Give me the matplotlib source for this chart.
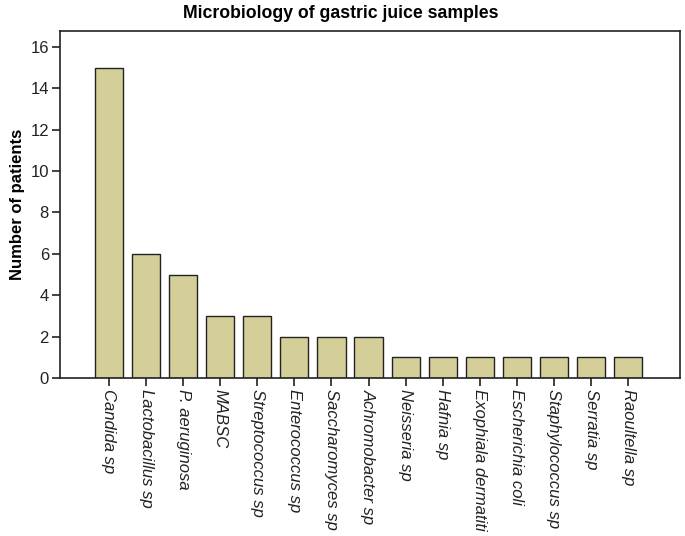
import matplotlib
matplotlib.use("Agg")
import matplotlib.pyplot as plt

categories = ["Candida sp", "Lactobacillus sp", "P. aeruginosa", "MABSC", "Streptococcus sp",
              "Enterococcus sp", "Saccharomyces sp", "Achromobacter sp", "Neisseria sp", "Hafnia sp",
              "Exophiala dermatiti", "Escherichia coli", "Staphylococcus sp", "Serratia sp", "Raoultella sp"]
values = [15, 6, 5, 3, 3, 2, 2, 2, 1, 1, 1, 1, 1, 1, 1]
yticks = [0, 2, 4, 6, 8, 10, 12, 14, 16]

plt.rcParams['font.family'] = ['Liberation Sans', 'DejaVu Sans']

fig = plt.figure(figsize=(6.85, 5.36), dpi=100)
ax = fig.add_axes([60/685, 1-378/536, 620/685, 347/536])

x = list(range(len(categories)))
ax.bar(x, values, width=0.76, color='#D4CF98', edgecolor='#222222', linewidth=1.0)
ax.set_xlim(-1.32, 15.4)
ax.set_ylim(0, 16.77)
ax.set_yticks(yticks)
ax.set_yticklabels([str(t) for t in yticks], fontsize=12)
ax.set_xticks(x)
ax.set_xticklabels(categories, rotation=270, fontsize=12, style='italic', va='top', ha='center')
ax.tick_params(axis='both', direction='out', length=6, width=1.2, color='#222222', labelcolor='#222222', pad=2)
for s in ax.spines.values():
    s.set_color('#222222')
    s.set_linewidth(1.2)
ax.set_ylabel("Number of patients", fontsize=12, fontweight='bold', labelpad=4)
fig.text(0.497, 1 - 14/536, "Microbiology of gastric juice samples", fontsize=12.7,
         fontweight='bold', ha='center', va='center')

fig.savefig("out.png", dpi=100)
